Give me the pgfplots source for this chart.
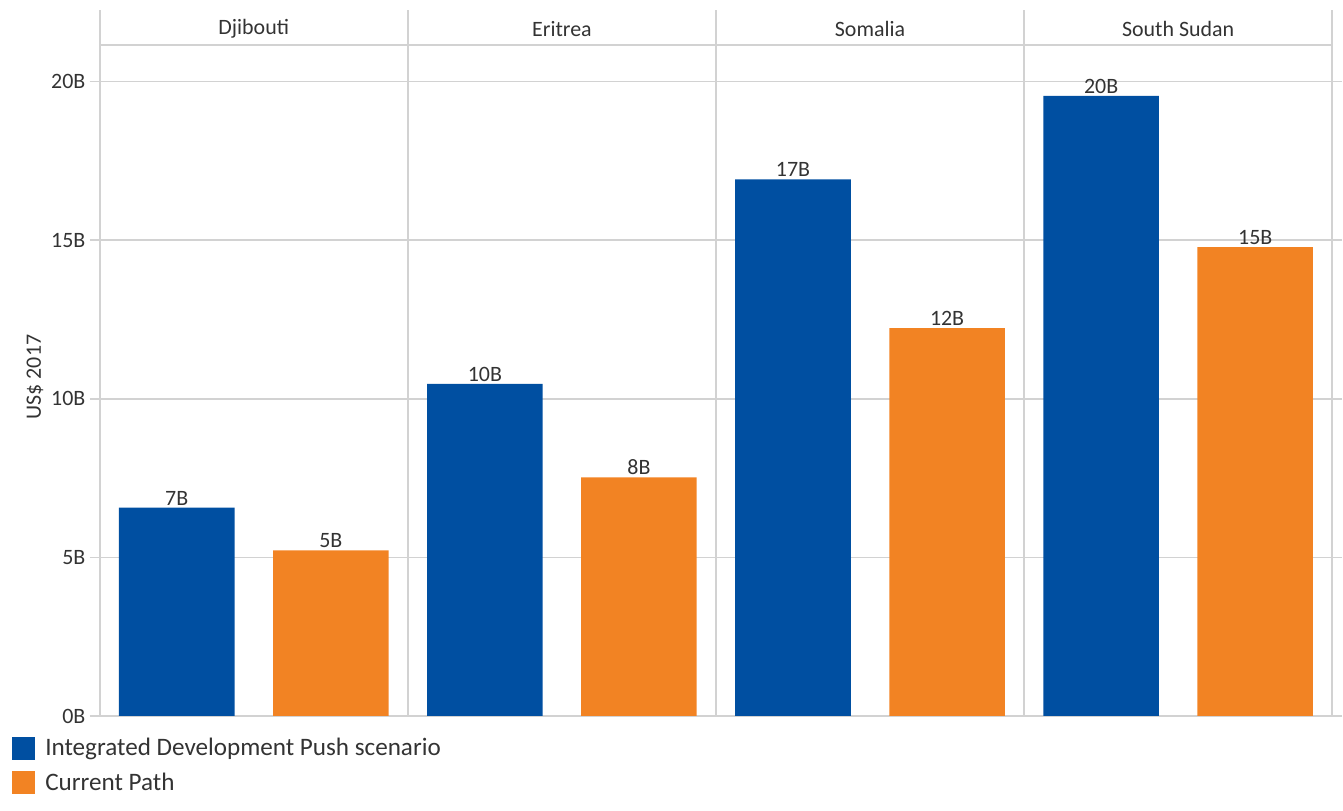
\documentclass[border=0pt]{standalone}
\usepackage{fontspec}
\setmainfont{Carlito}
\usepackage{pgfplots}
\pgfplotsset{compat=1.18}
\definecolor{idp}{RGB}{0,79,161}
\definecolor{cp}{RGB}{242,131,35}
\definecolor{gridc}{RGB}{210,210,210}
\definecolor{txt}{RGB}{51,51,51}
\begin{document}
\begin{tikzpicture}
\begin{axis}[
  scale only axis, width=618pt, height=354pt,
  xmin=0, xmax=4, ymin=0, ymax=22.26,
  axis line style={draw=none},
  xtick={0,1,2,3,4}, xticklabels={}, xmajorgrids,
  ytick={0,5,10,15,20}, yticklabels={0B,5B,10B,15B,20B}, ymajorgrids,
  extra y ticks={21.16}, extra y tick labels={},
  extra y tick style={grid=major, major tick length=0pt},
  grid style={gridc, line width=0.8pt},
  xtick style={draw=none},
  ytick style={draw=gridc, line width=0.8pt},
  tick align=outside, major tick length=5pt,
  /pgf/number format/assume math mode=true,
  ticklabel style={font=\fontsize{11}{13}\selectfont, text=txt},
  yticklabel style={inner sep=2pt},
  ylabel={US\$ 2017},
  ylabel style={at={(axis description cs:-0.0526,0.48)}, anchor=center, font=\fontsize{11}{13}\selectfont, text=txt},
  nodes near coords,
  point meta=explicit symbolic,
  nodes near coords style={font=\fontsize{11}{13}\selectfont, text=txt, anchor=south, inner sep=1pt},
  legend style={at={(axis description cs:-0.0712,-0.0254)}, anchor=north west, draw=none, fill=none,
    font=\fontsize{12.6}{15}\selectfont, text=txt, row sep=3pt, inner sep=0pt,
    /tikz/every odd column/.append style={column sep=3pt}},
  legend cell align=left,
  legend image code/.code={\fill[#1] (0pt,-5.75pt) rectangle (11.5pt,5.75pt);},
]
\addplot[ybar, bar width=0.375, bar shift=0pt, fill=idp, draw=none] coordinates {
  (0.25,6.57) [7B]
  (1.25,10.47) [10B]
  (2.25,16.92) [17B]
  (3.25,19.55) [20B]
};
\addlegendentry{Integrated Development Push scenario}
\addplot[ybar, bar width=0.375, bar shift=0pt, fill=cp, draw=none] coordinates {
  (0.75,5.22) [5B]
  (1.75,7.52) [8B]
  (2.75,12.23) [12B]
  (3.75,14.78) [15B]
};
\addlegendentry{Current Path}
\node[font=\fontsize{11}{13}\selectfont, text=txt] at (axis cs:0.5,21.66) {Djibouti};
\node[font=\fontsize{11}{13}\selectfont, text=txt] at (axis cs:1.5,21.66) {Eritrea};
\node[font=\fontsize{11}{13}\selectfont, text=txt] at (axis cs:2.5,21.66) {Somalia};
\node[font=\fontsize{11}{13}\selectfont, text=txt] at (axis cs:3.5,21.66) {South Sudan};
\end{axis}
\path ([xshift=-50pt,yshift=-47.5pt]current axis.south west) rectangle ([xshift=3.5pt,yshift=3.5pt]current axis.north east);
\end{tikzpicture}
\end{document}
